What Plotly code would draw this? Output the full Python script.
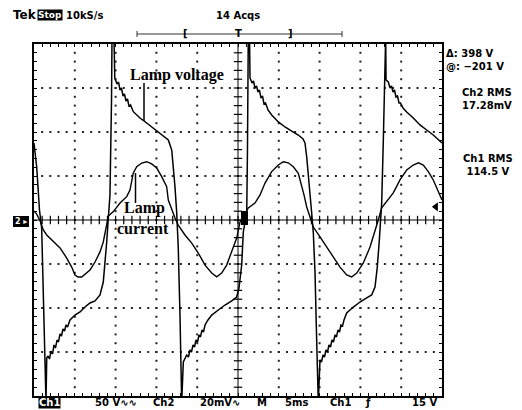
import plotly.graph_objects as go

# Ch1: lamp voltage, time in ms (5 ms/div), volts (50 V/div)
time_v = [0.00, 0.33, 0.49, 0.67, 0.94, 1.16, 1.35, 1.47, 1.56, 1.72, 1.90, 2.08, 2.27, 2.45, 2.63, 2.82,
          3.00, 3.19, 3.37, 3.55, 3.74, 3.92, 4.11, 4.41, 5.02, 5.64, 6.25, 6.86, 7.48, 8.09, 8.49, 8.70,
          8.91, 9.11, 9.31, 9.50, 9.56, 9.80, 9.90, 10.17, 10.36, 10.54, 10.72, 10.91, 11.09, 11.27, 11.46,
          11.64, 11.83, 12.17, 12.99, 13.81, 14.58, 15.44, 16.05, 16.46, 16.88, 17.07, 17.28, 17.49, 17.68,
          17.89, 18.01, 18.10, 18.30, 18.50, 18.71, 18.93, 19.12, 19.30, 19.49, 19.67, 19.85, 20.04, 20.22,
          20.40, 20.59, 20.77, 20.96, 21.32, 21.78, 22.59, 23.41, 24.23, 24.84, 25.12, 25.45, 25.65, 26.07,
          26.16, 26.26, 26.41, 26.47, 26.72, 26.90, 27.08, 27.27, 27.45, 27.63, 27.82, 28.00, 28.19, 28.37,
          28.68, 29.13, 29.94, 30.76, 31.58, 32.39, 32.97, 33.21, 33.42, 33.61, 33.82, 34.03, 34.23, 34.44,
          34.64, 34.72, 34.84, 35.05, 35.23, 35.42, 35.60, 35.78, 35.97, 36.15, 36.34, 36.52, 36.70, 36.89,
          37.07, 37.25, 37.44, 37.62, 37.81, 37.99, 38.32, 39.13, 39.95, 40.77, 41.38, 41.79, 42.07, 42.32,
          42.49, 42.61, 42.81, 43.01, 43.10, 43.14, 43.42, 43.63, 43.81, 44.00, 44.18, 44.36, 44.55, 44.73,
          44.91, 45.22, 45.67, 46.48, 47.30, 48.12, 48.93, 50.00]
volt = [87.5, 60.2, 37.5, 11.4, -9.1, -79.5, -164.8, -206.8, -156.8, -154.5, -158.0, -148.9, -152.3, -142.0,
        -145.5, -136.4, -138.6, -129.5, -131.8, -123.9, -126.1, -119.3, -121.6, -113.6, -108.0, -104.5, -98.9,
        -94.3, -92.0, -85.2, -70.5, -51.1, -25.0, 2.3, 28.4, 136.4, 209.0, 209.0, 161.4, 154.5, 156.8, 147.7,
        150.0, 140.9, 143.2, 135.2, 137.5, 129.5, 130.7, 123.1, 115.9, 110.2, 104.5, 98.9, 94.3, 90.9, 79.5,
        60.2, 37.5, 8.0, -31.8, -108.0, -164.8, -206.8, -161.4, -156.8, -153.4, -155.7, -147.7, -150.0,
        -142.0, -144.3, -136.4, -138.6, -130.7, -132.9, -125.0, -127.3, -119.3, -113.6, -108.0, -102.3, -96.6,
        -92.0, -87.5, -77.3, -51.1, -13.6, 8.0, 79.5, 209.0, 209.0, 161.4, 155.7, 158.0, 150.0, 152.3, 145.5,
        147.7, 138.6, 140.9, 131.8, 133.0, 125.0, 119.3, 111.4, 105.7, 101.1, 96.6, 92.0, 87.5, 71.6, 53.4,
        34.1, 8.0, -14.8, -60.2, -136.4, -173.9, -206.8, -159.1, -161.4, -153.4, -155.7, -147.7, -150.0,
        -142.0, -144.3, -136.4, -138.6, -130.7, -132.9, -125.0, -127.3, -119.3, -120.5, -113.6, -105.7, -98.9,
        -93.2, -88.6, -85.2, -76.1, -53.4, -22.7, 0.0, 19.3, 90.9, 209.0, 209.0, 159.1, 156.8, 150.0, 152.3,
        145.5, 147.7, 139.8, 140.9, 133.0, 133.0, 127.3, 122.7, 115.9, 108.0, 102.3, 96.6, 87.5]

# Ch2: lamp current (probe output), time in ms, mV (20 mV/div)
time_i = [0.00, 0.33, 0.74, 1.14, 1.56, 2.37, 3.19, 4.01, 4.62, 5.02, 5.39, 5.85, 6.25, 6.86, 7.48, 8.09,
          8.49, 8.91, 9.11, 9.72, 10.54, 11.36, 11.76, 12.17, 12.59, 13.20, 13.81, 14.42, 15.04, 15.65, 16.26,
          16.46, 16.88, 17.28, 17.68, 18.50, 19.33, 20.13, 20.96, 21.78, 22.39, 23.00, 23.61, 24.23, 24.84,
          25.25, 25.65, 26.26, 27.08, 27.70, 28.31, 29.13, 29.94, 30.55, 31.16, 31.78, 32.39, 32.72, 33.09,
          33.42, 33.82, 34.23, 35.05, 35.87, 36.68, 37.50, 38.32, 38.93, 39.55, 40.36, 41.18, 41.79, 42.19,
          42.61, 43.42, 44.03, 44.85, 45.67, 46.48, 47.10, 47.71, 48.32, 48.93, 49.35, 50.00]
curr = [4.1, 2.7, -0.3, -4.5, -6.8, -9.9, -12.7, -17.3, -21.4, -25.0, -25.9, -25.9, -24.5, -22.7, -19.1,
        -14.5, -10.0, -2.3, 1.8, 3.8, 7.7, 10.6, 13.6, 21.4, 24.2, 25.9, 26.5, 25.5, 23.6, 19.7, 15.1, 9.1,
        4.5, 0.9, -2.3, -6.8, -10.5, -15.0, -20.5, -24.1, -25.8, -24.1, -20.5, -14.4, -8.2, -0.9, 1.5, 5.5,
        7.7, 11.4, 16.8, 22.0, 25.0, 26.5, 26.0, 24.2, 21.2, 16.8, 11.4, 5.9, 1.4, -3.2, -7.7, -12.3, -16.8,
        -21.4, -25.0, -25.9, -24.1, -19.5, -12.3, -5.5, 0.0, 5.5, 9.1, 12.3, 18.2, 22.7, 25.0, 26.0, 25.0,
        22.0, 18.2, 14.5, 9.1]

trigger_level_v = 15
x_divs = 10
y_divs = 8
ms_per_div = 5
v_per_div = 50
mv_per_div = 20

# ---------------- figure ----------------
W, H = 522, 410
L, R, T, B = 34, 80, 44, 14
PW, PH = W - L - R, H - T - B


def px(x):
    return (x - L) / PW


def py(y):
    return (H - B - y) / PH


fig = go.Figure()

xmax = x_divs * ms_per_div
ymax = y_divs / 2 * v_per_div

# dotted graticule
gx, gy = [], []
for k in range(1, x_divs):
    xv = k * ms_per_div
    if k == x_divs // 2:
        continue
    for j in range(1, y_divs * 5):
        gx.append(xv)
        gy.append(-ymax + j * v_per_div / 5)
for k in range(1, y_divs):
    yv = -ymax + k * v_per_div
    if k == y_divs // 2:
        continue
    for j in range(1, x_divs * 5):
        gx.append(j * ms_per_div / 5)
        gy.append(yv)
fig.add_trace(go.Scatter(x=gx, y=gy, mode="markers", hoverinfo="skip",
                         marker=dict(symbol="square", size=2, color="#222", line=dict(width=0))))

# center-line ticks
cx = [j * ms_per_div / 5 for j in range(1, x_divs * 5)]
fig.add_trace(go.Scatter(x=cx, y=[0] * len(cx), mode="markers", hoverinfo="skip",
                         marker=dict(symbol="line-ns-open", size=6, color="black", line=dict(width=1.2))))
cy = [-ymax + j * v_per_div / 5 for j in range(1, y_divs * 5)]
fig.add_trace(go.Scatter(x=[xmax / 2] * len(cy), y=cy, mode="markers", hoverinfo="skip",
                         marker=dict(symbol="line-ew-open", size=6, color="black", line=dict(width=1.2))))

# waveforms
fig.add_trace(go.Scatter(x=time_v, y=volt, mode="lines", line=dict(color="black", width=1.5),
                         name="Lamp voltage"))
fig.add_trace(go.Scatter(x=time_i, y=curr, mode="lines", line=dict(color="black", width=1.4),
                         name="Lamp current", yaxis="y2"))

# trigger level arrow
fig.add_trace(go.Scatter(x=[xmax * 0.985], y=[trigger_level_v], mode="markers", hoverinfo="skip",
                         marker=dict(symbol="triangle-left", size=8, color="black")))

fig.update_layout(
    width=W, height=H, autosize=False,
    margin=dict(l=L, r=R, t=T, b=B, pad=0),
    paper_bgcolor="white", plot_bgcolor="white",
    showlegend=False,
    xaxis=dict(range=[0, xmax], showgrid=False, zeroline=False, showticklabels=False,
               showline=True, linecolor="black", linewidth=1.5, mirror="ticks",
               ticks="inside", tick0=0, dtick=ms_per_div / 5, ticklen=3, tickcolor="black", tickwidth=1),
    yaxis=dict(range=[-ymax, ymax], showgrid=False, zeroline=False, showticklabels=False,
               showline=True, linecolor="black", linewidth=1.5, mirror="ticks",
               ticks="inside", tick0=0, dtick=v_per_div / 5, ticklen=3, tickcolor="black", tickwidth=1),
    yaxis2=dict(range=[-y_divs / 2 * mv_per_div, y_divs / 2 * mv_per_div], overlaying="y",
                visible=False),
)

shapes = [
    dict(type="line", xref="x", yref="y", x0=xmax / 2, x1=xmax / 2, y0=-ymax, y1=ymax,
         line=dict(color="black", width=1)),
    dict(type="line", xref="x", yref="y", x0=0, x1=xmax, y0=0, y1=0,
         line=dict(color="black", width=1)),
    # trigger position bar
    dict(type="line", xref="paper", yref="paper", x0=px(137), x1=px(342), y0=py(34), y1=py(34),
         line=dict(color="#333", width=1)),
    dict(type="line", xref="paper", yref="paper", x0=px(137), x1=px(137), y0=py(31), y1=py(37),
         line=dict(color="#333", width=1)),
    dict(type="line", xref="paper", yref="paper", x0=px(342), x1=px(342), y0=py(31), y1=py(37),
         line=dict(color="#333", width=1)),
    # trigger point marker
    dict(type="rect", xref="paper", yref="paper", x0=px(241), x1=px(248), y0=py(225), y1=py(211),
         fillcolor="black", line=dict(width=0)),
    # pointer lines
    dict(type="line", xref="paper", yref="paper", x0=px(144), x1=px(144), y0=py(83), y1=py(121),
         line=dict(color="black", width=1.5)),
    dict(type="line", xref="paper", yref="paper", x0=px(135.5), x1=px(135.5), y0=py(173), y1=py(203),
         line=dict(color="black", width=1.5)),
    # channel 2 ground marker box
    dict(type="rect", xref="paper", yref="paper", x0=px(13), x1=px(29), y0=py(227), y1=py(216),
         fillcolor="black", line=dict(width=0)),
]
fig.update_layout(shapes=shapes)

SANS = "DejaVu Sans"
ann = []


def txt(text, x, y, size=11, anchor="center", color="black", bg=None, family=SANS, bold=True):
    t = f"<b>{text}</b>" if bold else text
    d = dict(text=t, x=px(x), y=py(y), xref="paper", yref="paper", showarrow=False,
             xanchor=anchor, yanchor="middle", align=anchor if anchor != "center" else "center",
             font=dict(family=family, size=size, color=color))
    if bg:
        d.update(bgcolor=bg, borderpad=0)
    ann.append(d)


txt("Tek", 24.5, 15.5, size=12)
txt("Stop", 50, 15.5, size=9, color="white", bg="black")
txt("10kS/s", 84, 15.5, size=10)
txt("14 Acqs", 238, 15.5, size=10)
txt("[", 185, 33, size=10)
txt("T", 238, 33, size=10)
txt("]", 290, 33, size=10)
txt("Δ: 398 V<br>@: −201 V", 444, 59.5, size=10, anchor="left")
txt("Ch2 RMS<br>17.28mV", 487, 99, size=10)
txt("Ch1 RMS<br>114.5 V", 488, 165, size=10)
txt("2 ▸", 21, 221.5, size=8, color="white")
txt("Ch1", 49, 402, size=10, color="white", bg="black")
txt("50 V∿∿", 93, 402, size=10, anchor="left")
txt("Ch2", 163, 402, size=10)
txt("20mV∿", 198, 402, size=10, anchor="left")
txt("M", 262, 402, size=10)
txt("5ms", 296, 402, size=10)
txt("Ch1", 340, 402, size=10)
txt("ƒ", 368, 402, size=10)
txt("15 V", 424, 402, size=10)
txt("Lamp voltage", 177, 75, size=16, family="Liberation Serif")
txt("Lamp", 144, 208, size=16, family="Liberation Serif")
txt("current", 142.5, 228, size=16, family="Liberation Serif")
fig.update_layout(annotations=ann)

fig.write_html("out.html", config={"displayModeBar": False},
               post_script="document.body.style.margin='0';")
